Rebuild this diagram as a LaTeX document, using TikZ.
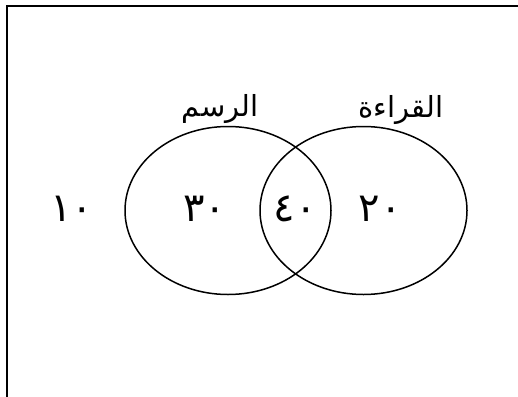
\documentclass[tikz,border=0pt]{standalone}
\usepackage{fontspec}
\TeXXeTstate=1
\newfontfamily\arabicfont[Script=Arabic]{DejaVu Sans}
\newfontfamily\digitfont{DejaVu Sans}
\tikzset{
  setline/.style={draw=black, line width=1.5pt},
  framestyle/.style={draw=black, line width=1.6pt},
  numtext/.style={font=\digitfont\fontsize{40}{44}\selectfont, inner sep=0pt},
  labtext/.style={font=\arabicfont\fontsize{29}{32}\selectfont, inner sep=0pt}
}
\begin{document}
\begin{tikzpicture}[x=1pt,y=-1pt]
\useasboundingbox (0,0) rectangle (518,396);
\clip (0,0) rectangle (518,396);
\draw[framestyle] (7,6) rectangle (540,420);
\draw[setline] (228,210.5) ellipse [x radius=103, y radius=84];
\draw[setline] (363.5,210.5) ellipse [x radius=103.5, y radius=84];
\node[labtext] (lr) at (220,109) {\beginR الرسم\endR};
\node[labtext] (lq) at (401,110) {\beginR القراءة\endR};
\node[numtext] (n10) at (72,209) {١٠};
\node[numtext] (n30) at (205,209) {٣٠};
\node[numtext] (n40) at (295,209) {٤٠};
\node[numtext] (n20) at (380,209) {٢٠};
\end{tikzpicture}
\end{document}
